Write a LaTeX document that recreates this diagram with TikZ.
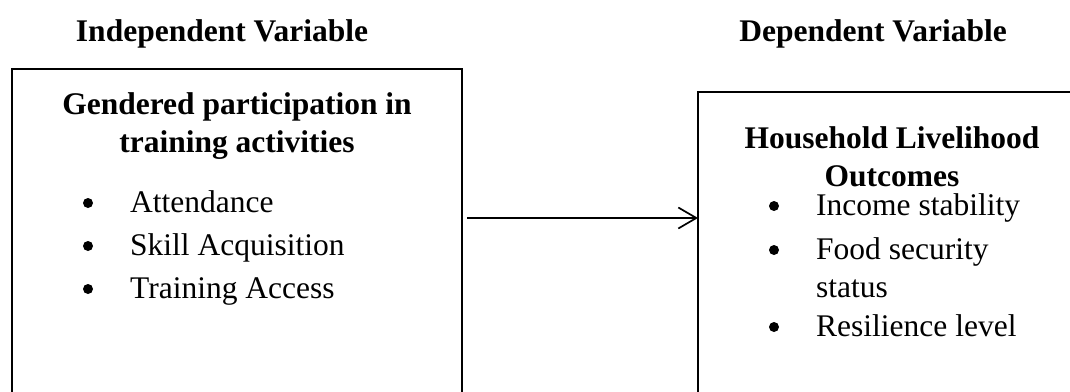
\documentclass[tikz,border=0pt]{standalone}
\usepackage{fontspec}
\setmainfont{Liberation Serif}
\usetikzlibrary{arrows.meta}
\tikzset{
  txt/.style={inner sep=0pt, font=\fontsize{31.5}{38}\selectfont},
  head/.style={txt, font=\fontsize{31.5}{38}\selectfont\bfseries, anchor=base},
  item/.style={txt, anchor=base west},
  dot/.style={circle, fill=black, inner sep=0pt, minimum size=10pt},
  frame/.style={draw=black, line width=2pt},
  link/.style={draw=black, line width=1.7pt, -{Straight Barb[length=18pt,width=21pt,line width=1.7pt]}}
}
\begin{document}
\begin{tikzpicture}[x=1pt,y=-1pt]
\useasboundingbox (0,0) rectangle (1070,391);
\clip (0,0) rectangle (1070,391);
% headings
\node[head] (iv) at (222,41) {Independent Variable};
\node[head] (dv) at (873,41) {Dependent Variable};
% boxes
\draw[frame] (12,420) -- (12,69) -- (462,69) -- (462,420);
\draw[frame] (698,420) -- (698,92) -- (1100,92);
\coordinate (rbl) at (698,218);
% left box content
\node[head] (lt1) at (237,114) {Gendered participation in};
\node[head] (lt2) at (237,152) {training activities};
\node[dot] (b1) at (88,203) {};
\node[item] (i1) at (130,212) {Attendance};
\node[dot] (b2) at (88,246) {};
\node[item] (i2) at (130,255) {Skill Acquisition};
\node[dot] (b3) at (88,289) {};
\node[item] (i3) at (130,298) {Training Access};
% right box content
\node[head] (rt1) at (892,148) {Household Livelihood};
\node[head] (rt2) at (892,186) {Outcomes};
\node[dot] (c1) at (774,206) {};
\node[item] (j1) at (816,215) {Income stability};
\node[dot] (c2) at (774,250) {};
\node[item] (j2) at (816,259) {Food security};
\node[item] (j2b) at (816,297) {status};
\node[dot] (c3) at (774,327) {};
\node[item] (j3) at (816,336) {Resilience level};
% connector
\coordinate (as) at (467,218);
\draw[link] (as) -- (rbl);
\end{tikzpicture}
\end{document}
